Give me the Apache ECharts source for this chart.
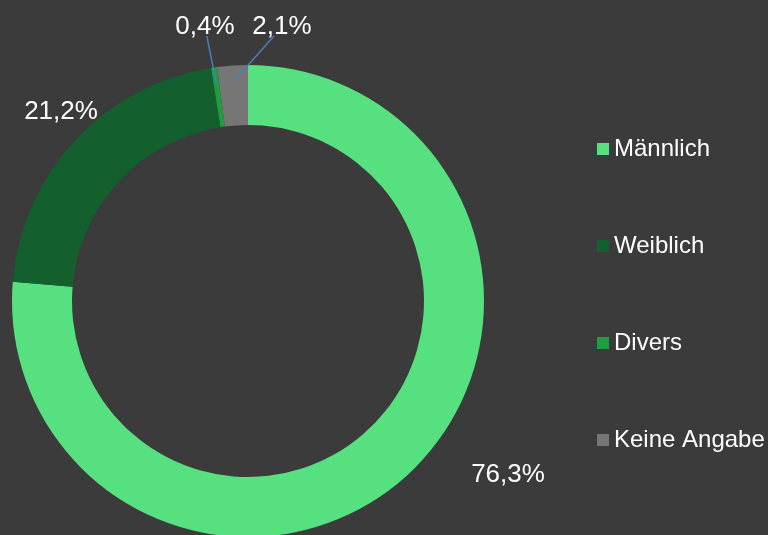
<!DOCTYPE html>
<html>
<head>
<meta charset="utf-8">
<script src="https://cdn.jsdelivr.net/npm/echarts@6/dist/echarts.min.js"></script>
<style>
  html, body { margin: 0; padding: 0; background: #3b3b3b; }
  #chart { width: 768px; height: 535px; }
</style>
</head>
<body>
<div id="chart"></div>
<script>
const categories = ["Männlich", "Weiblich", "Divers", "Keine Angabe"];
const shares = [76.3, 21.2, 0.4, 2.1];

const colors = ["#56e07f", "#135f2e", "#1f9e40", "#767676"];
// where each percentage label sits (label centre, px)
const labelSpots = [[508, 475], [61, 112], [205, 27], [282, 27]];
const withLeader = [false, false, true, true];

const CX = 248, CY = 301, R_IN = 176, R_OUT = 236;

// mid angle of every slice (clockwise from 12 o'clock), from the data
const total = shares.reduce((a, b) => a + b, 0);
let acc = 0;
const midAngles = shares.map((v) => {
  const mid = (acc + v / 2) / total * Math.PI * 2;
  acc += v;
  return mid;
});

const chart = echarts.init(document.getElementById("chart"));

const pieBase = {
  type: "pie",
  center: [CX, CY],
  radius: [R_IN, R_OUT],
  startAngle: 90,
  clockwise: true,
  avoidLabelOverlap: false,
};

const option = {
  backgroundColor: "#3b3b3b",
  animation: false,
  legend: {
    orient: "vertical",
    left: 597,
    top: 137,
    padding: 0,
    itemWidth: 12,
    itemHeight: 12,
    itemGap: 73,
    icon: "rect",
    textStyle: {
      color: "#ffffff",
      fontSize: 24,
      fontFamily: "Liberation Sans, Arial, sans-serif",
      padding: [0, 0, 0, 0],
    },
    data: categories,
  },
  series: [
    // the coloured ring
    Object.assign({}, pieBase, {
      z: 2,
      label: { show: false },
      labelLine: { show: false },
      data: categories.map((name, i) => ({
        name,
        value: shares[i],
        itemStyle: { color: colors[i], borderWidth: 0 },
      })),
    }),
    // transparent copy on top, carrying the labels and leader lines
    Object.assign({}, pieBase, {
      z: 3,
      silent: true,
      legendHoverLink: false,
      data: categories.map((name, i) => ({
        name,
        value: shares[i],
        itemStyle: { color: "rgba(0,0,0,0)", borderWidth: 0 },
        labelLine: { show: withLeader[i] },
      })),
      label: {
        show: true,
        position: "outside",
        color: "#ffffff",
        fontSize: 26,
        fontFamily: "Liberation Sans, Arial, sans-serif",
        formatter: (p) => p.value.toFixed(1).replace(".", ",") + "%",
      },
      labelLine: {
        show: true,
        smooth: false,
        lineStyle: { color: "#4a7ebb", width: 1.5 },
      },
      labelLayout: function (params) {
        const i = params.dataIndex;
        const spot = labelSpots[i];
        const out = {
          x: spot[0],
          y: spot[1],
          align: "center",
          verticalAlign: "middle",
        };
        if (withLeader[i]) {
          const a = midAngles[i];
          const r = R_OUT - 16;
          const ax = CX + r * Math.sin(a);
          const ay = CY - r * Math.cos(a);
          const sy = spot[1] + 9;
          const t = (sy - spot[1]) / (ay - spot[1]);
          const sx = spot[0] + (ax - spot[0]) * t;
          out.labelLinePoints = [
            [sx, sy],
            [(sx + ax) / 2, (sy + ay) / 2],
            [ax, ay],
          ];
        }
        return out;
      },
    }),
  ],
};

chart.setOption(option);
</script>
</body>
</html>
